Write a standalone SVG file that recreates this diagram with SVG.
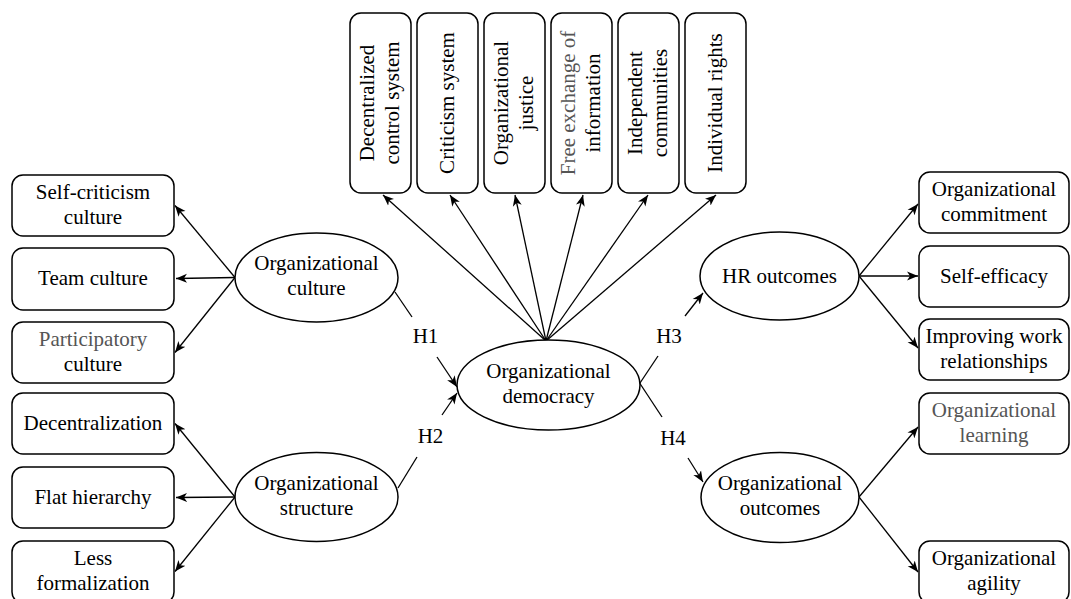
<svg xmlns="http://www.w3.org/2000/svg" width="1071" height="599" viewBox="0 0 1071 599" font-family="'Liberation Serif', 'DejaVu Serif', 'Times New Roman', serif">
<style>
.box{fill:#fff;stroke:#000;stroke-width:1.5}
.ell{fill:#fff;stroke:#000;stroke-width:1.5}
text{font-family:'Liberation Serif','DejaVu Serif','Times New Roman',serif;font-size:21px;fill:#000;text-anchor:middle}
.g{fill:#555}
.c{stroke:#000;stroke-width:1.3;fill:none}
.a{marker-end:url(#ah)}
</style>
<defs>
<marker id="ah" markerWidth="12" markerHeight="10" refX="11" refY="5" orient="auto" markerUnits="userSpaceOnUse">
<path d="M0,0.5 L11,5 L0,9.5 L3,5 z" fill="#000"/>
</marker>
</defs>
<rect width="1071" height="599" fill="#fff"/>
<g id="connectors">
<line class="c a" x1="546" y1="341" x2="383" y2="195"/>
<line class="c a" x1="546" y1="341" x2="450" y2="195"/>
<line class="c a" x1="546" y1="341" x2="515" y2="195"/>
<line class="c a" x1="546" y1="341" x2="583" y2="195"/>
<line class="c a" x1="546" y1="341" x2="648" y2="195"/>
<line class="c a" x1="546" y1="341" x2="716" y2="195"/>
<line class="c a" x1="235" y1="277.5" x2="175" y2="205.5"/>
<line class="c a" x1="235" y1="277.5" x2="176" y2="278.5"/>
<line class="c a" x1="235" y1="277.5" x2="175" y2="352.5"/>
<line class="c a" x1="235" y1="497" x2="175" y2="423.5"/>
<line class="c a" x1="235" y1="497" x2="176" y2="497.5"/>
<line class="c a" x1="235" y1="497" x2="175" y2="571.5"/>
<line class="c a" x1="859" y1="276" x2="918" y2="204"/>
<line class="c a" x1="859" y1="276" x2="918" y2="276"/>
<line class="c a" x1="859" y1="276" x2="918" y2="348"/>
<line class="c a" x1="859" y1="497" x2="918" y2="427"/>
<line class="c a" x1="859" y1="497" x2="918" y2="572"/>
<line class="c" x1="395" y1="292" x2="412" y2="317"/>
<line class="c a" x1="437" y1="357" x2="457" y2="387"/>
<line class="c" x1="398" y1="488" x2="417" y2="457"/>
<line class="c a" x1="442" y1="415" x2="457" y2="393"/>
<line class="c" x1="638" y1="386" x2="658" y2="356"/>
<line class="c a" x1="685" y1="316" x2="703" y2="293"/>
<line class="c" x1="637" y1="379" x2="662" y2="417"/>
<line class="c a" x1="688" y1="458" x2="703" y2="482"/>
<text x="425.5" y="343">H1</text>
<text x="430.5" y="443">H2</text>
<text x="669" y="343">H3</text>
<text x="673" y="445">H4</text>
</g>
<g id="n-decentralized-control">
<rect class="box" x="350" y="13" width="61" height="180" rx="11"/>
<text transform="translate(380.5,103) rotate(-90)"><tspan x="0" y="-7">Decentralized</tspan><tspan x="0" y="18">control system</tspan></text>
</g>
<g id="n-criticism-system">
<rect class="box" x="417" y="13" width="61" height="180" rx="11"/>
<text transform="translate(447.5,103) rotate(-90)"><tspan x="0" y="6">Criticism system</tspan></text>
</g>
<g id="n-organizational-justice">
<rect class="box" x="484" y="13" width="61" height="180" rx="11"/>
<text transform="translate(514.5,103) rotate(-90)"><tspan x="0" y="-7">Organizational</tspan><tspan x="0" y="18">justice</tspan></text>
</g>
<g id="n-free-exchange">
<rect class="box" x="551" y="13" width="61" height="180" rx="11"/>
<text transform="translate(581.5,103) rotate(-90)"><tspan class="g" x="0" y="-7">Free exchange of</tspan><tspan x="0" y="18">information</tspan></text>
</g>
<g id="n-independent-communities">
<rect class="box" x="618" y="13" width="61" height="180" rx="11"/>
<text transform="translate(648.5,103) rotate(-90)"><tspan x="0" y="-7">Independent</tspan><tspan x="0" y="18">communities</tspan></text>
</g>
<g id="n-individual-rights">
<rect class="box" x="685" y="13" width="61" height="180" rx="11"/>
<text transform="translate(715.5,103) rotate(-90)"><tspan x="0" y="6">Individual rights</tspan></text>
</g>
<g id="n-self-criticism">
<rect class="box" x="12" y="175" width="162" height="61" rx="11"/>
<text><tspan x="93" y="198.5">Self-criticism</tspan><tspan x="93" y="223.5">culture</tspan></text>
</g>
<g id="n-team-culture">
<rect class="box" x="12" y="248" width="162" height="62" rx="11"/>
<text x="93" y="285">Team culture</text>
</g>
<g id="n-participatory">
<rect class="box" x="12" y="322" width="162" height="61" rx="11"/>
<text><tspan class="g" x="93" y="345.5">Participatory</tspan><tspan x="93" y="370.5">culture</tspan></text>
</g>
<g id="n-decentralization">
<rect class="box" x="12" y="393" width="162" height="61" rx="11"/>
<text x="93" y="430">Decentralization</text>
</g>
<g id="n-flat-hierarchy">
<rect class="box" x="12" y="467" width="162" height="61" rx="11"/>
<text x="93" y="504">Flat hierarchy</text>
</g>
<g id="n-less-formalization">
<rect class="box" x="12" y="541" width="162" height="62" rx="11"/>
<text><tspan x="93" y="564.5">Less</tspan><tspan x="93" y="589.5">formalization</tspan></text>
</g>
<g id="n-org-culture">
<ellipse class="ell" cx="316.5" cy="277.5" rx="81.5" ry="44.5"/>
<text><tspan x="316.5" y="270">Organizational</tspan><tspan x="316.5" y="295">culture</tspan></text>
</g>
<g id="n-org-structure">
<ellipse class="ell" cx="316.5" cy="497" rx="81.5" ry="44.5"/>
<text><tspan x="316.5" y="489.5">Organizational</tspan><tspan x="316.5" y="514.5">structure</tspan></text>
</g>
<g id="n-org-democracy">
<ellipse class="ell" cx="548.5" cy="385" rx="91.5" ry="45"/>
<text><tspan x="548.5" y="377.5">Organizational</tspan><tspan x="548.5" y="402.5">democracy</tspan></text>
</g>
<g id="n-hr-outcomes">
<ellipse class="ell" cx="779.5" cy="276" rx="79.5" ry="44"/>
<text x="779.5" y="283">HR outcomes</text>
</g>
<g id="n-org-outcomes">
<ellipse class="ell" cx="780" cy="497.5" rx="79" ry="45"/>
<text><tspan x="780" y="490">Organizational</tspan><tspan x="780" y="515">outcomes</tspan></text>
</g>
<g id="n-org-commitment">
<rect class="box" x="919" y="172" width="150" height="61" rx="11"/>
<text><tspan x="994" y="195.5">Organizational</tspan><tspan x="994" y="220.5">commitment</tspan></text>
</g>
<g id="n-self-efficacy">
<rect class="box" x="919" y="246" width="150" height="61" rx="11"/>
<text x="994" y="283">Self-efficacy</text>
</g>
<g id="n-improving">
<rect class="box" x="919" y="319" width="150" height="61" rx="11"/>
<text><tspan x="994" y="342.5">Improving work</tspan><tspan x="994" y="367.5">relationships</tspan></text>
</g>
<g id="n-org-learning">
<rect class="box" x="919" y="393" width="150" height="61" rx="11"/>
<text class="g"><tspan x="994" y="416.5">Organizational</tspan><tspan x="994" y="441.5">learning</tspan></text>
</g>
<g id="n-org-agility">
<rect class="box" x="919" y="541" width="150" height="62" rx="11"/>
<text><tspan x="994" y="564.5">Organizational</tspan><tspan x="994" y="589.5">agility</tspan></text>
</g>
</svg>
